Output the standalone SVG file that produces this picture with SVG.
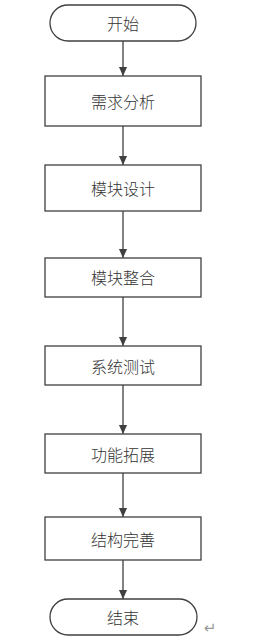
<svg xmlns="http://www.w3.org/2000/svg" width="269" height="642" viewBox="0 0 269 642">
<defs>
<marker id="arr" markerUnits="userSpaceOnUse" markerWidth="9" markerHeight="11" refX="10" refY="4.5" orient="auto" viewBox="0 0 10 9">
<path d="M0,0 L10,4.5 L0,9 Z" fill="#404040"/>
</marker>
</defs>
<style>
.n{fill:#fff;stroke:#404040;stroke-width:1.3}
.t{font-family:"Noto Sans CJK SC","Noto Sans CJK JP",sans-serif;font-size:16px;font-weight:300;fill:#333;text-anchor:middle;dominant-baseline:central}
.c{stroke:#404040;stroke-width:1.3;fill:none;marker-end:url(#arr)}
</style>
<rect width="269" height="642" fill="#fff"/>
<g id="connectors">
<line class="c" x1="123" y1="41" x2="123" y2="76"/>
<line class="c" x1="123" y1="126" x2="123" y2="165"/>
<line class="c" x1="123" y1="211" x2="123" y2="258"/>
<line class="c" x1="123" y1="297" x2="123" y2="346"/>
<line class="c" x1="123" y1="385" x2="123" y2="434"/>
<line class="c" x1="123" y1="473" x2="123" y2="517"/>
<line class="c" x1="123" y1="560" x2="123" y2="599"/>
</g>
<g id="start"><rect class="n" x="50" y="5" width="146" height="36" rx="18" ry="18"/><text class="t" x="123" y="23">开始</text></g>
<g id="n1"><rect class="n" x="45" y="76" width="156" height="50"/><text class="t" x="123" y="101">需求分析</text></g>
<g id="n2"><rect class="n" x="45" y="165" width="156" height="46"/><text class="t" x="123" y="188">模块设计</text></g>
<g id="n3"><rect class="n" x="45" y="258" width="156" height="39"/><text class="t" x="123" y="277">模块整合</text></g>
<g id="n4"><rect class="n" x="45" y="346" width="156" height="39"/><text class="t" x="123" y="366">系统测试</text></g>
<g id="n5"><rect class="n" x="45" y="434" width="156" height="39"/><text class="t" x="123" y="454">功能拓展</text></g>
<g id="n6"><rect class="n" x="45" y="517" width="156" height="43"/><text class="t" x="123" y="539">结构完善</text></g>
<g id="end"><rect class="n" x="50" y="599" width="147" height="36" rx="18" ry="18"/><text class="t" x="123" y="617">结束</text></g>
<text x="210" y="628" font-family="DejaVu Sans,sans-serif" font-size="15" fill="#999" text-anchor="middle" dominant-baseline="central">↵</text>
</svg>
